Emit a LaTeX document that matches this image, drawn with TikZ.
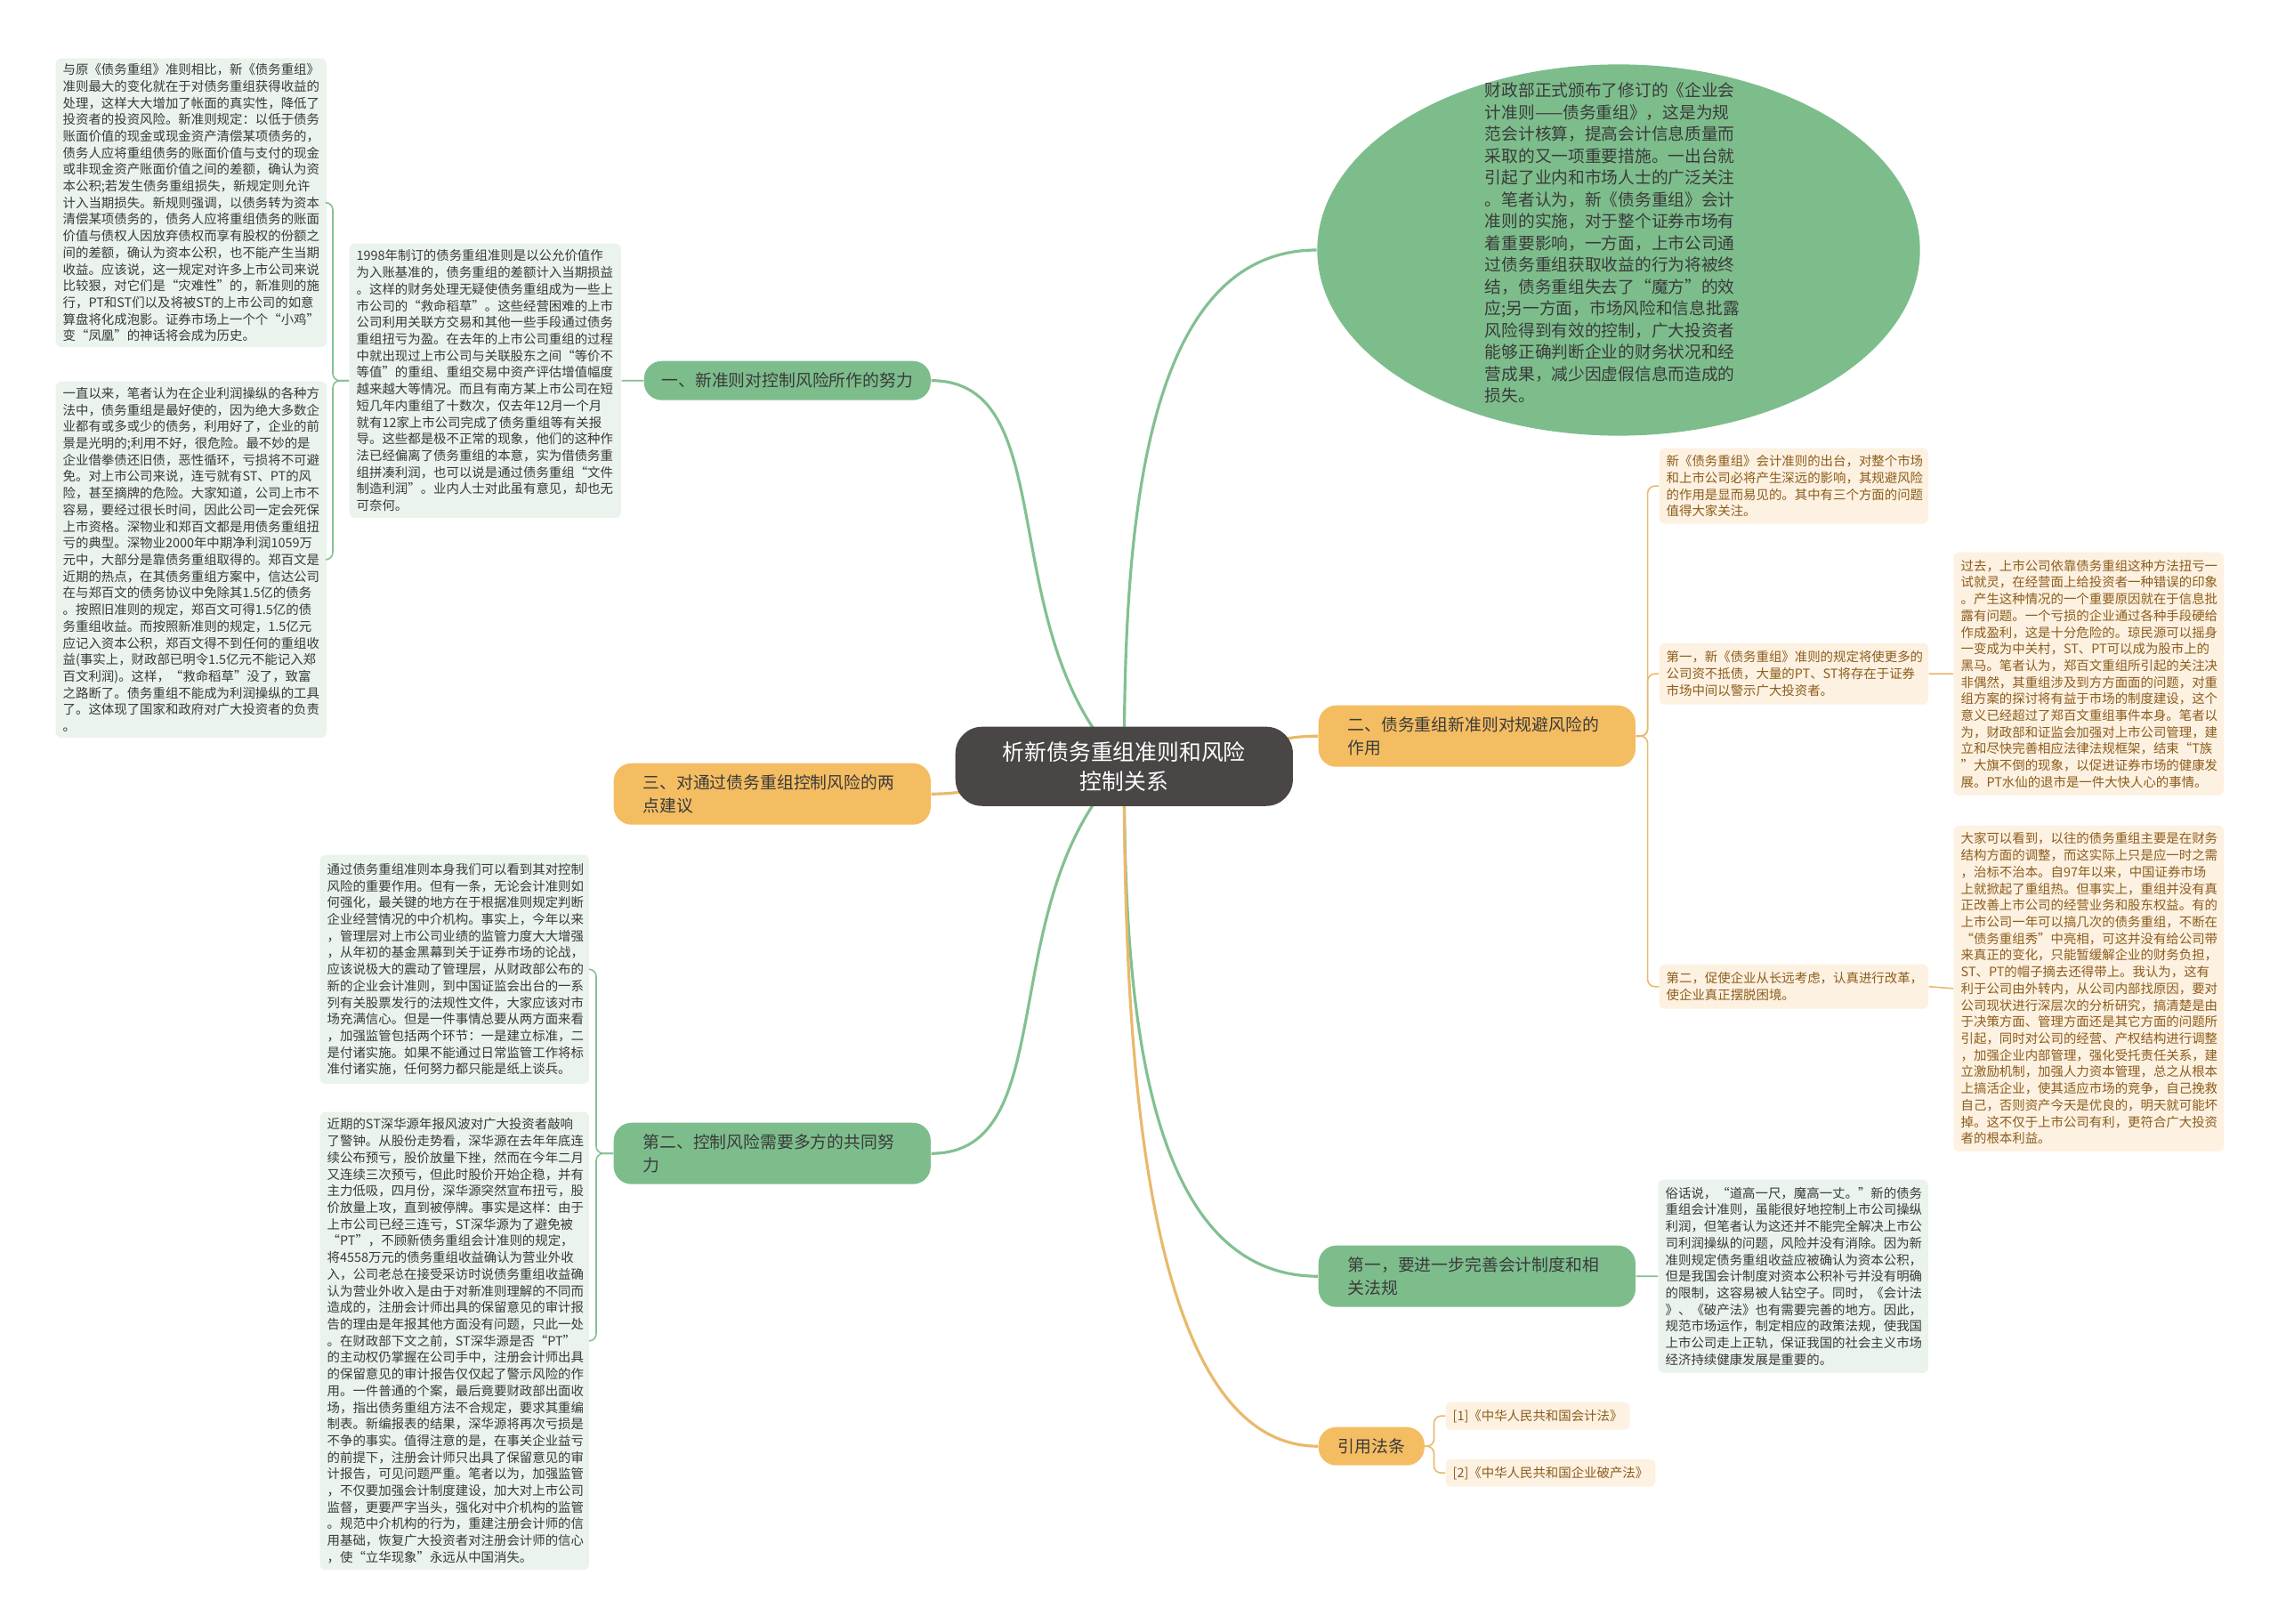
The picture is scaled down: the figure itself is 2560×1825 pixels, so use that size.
\documentclass[tikz,border=0pt]{standalone}
\usepackage{fontspec}
\setmainfont{Noto Sans CJK SC}
\usetikzlibrary{shapes.geometric,backgrounds}

\definecolor{rootfill}{HTML}{4A4646}
\definecolor{gpill}{HTML}{7DBD8C}
\definecolor{gleaf}{HTML}{EAF3EC}
\definecolor{gline}{HTML}{82C092}
\definecolor{opill}{HTML}{F4BD62}
\definecolor{oleaf}{HTML}{FDF1E1}
\definecolor{oline}{HTML}{E9B96B}
\definecolor{otext}{HTML}{8C5D1C}
\definecolor{dtext}{HTML}{3A3A3A}

\tikzset{
	leaf/.style={rectangle, rounded corners=0.6mm, inner xsep=0.08cm, inner ysep=0.04cm, align=left, anchor=north west, font=\fontsize{4.1}{5.32}\selectfont},
	gleafbox/.style={leaf, fill=gleaf, text=dtext},
	oleafbox/.style={leaf, fill=oleaf, text=otext},
	pill/.style={rectangle, rounded corners=0.2cm, anchor=north west, text=dtext, font=\fontsize{5.35}{7.4}\selectfont},
	widepill/.style={pill, inner xsep=0.33cm, text width=2.9cm, align=left, minimum height=0.69cm},
	gbranch/.style={fill=gpill},
	obranch/.style={fill=opill},
	gmain/.style={draw=gline, line width=0.9pt},
	omain/.style={draw=oline, line width=0.9pt},
	gsub/.style={draw=gline, line width=0.45pt, rounded corners=0.8mm},
	osub/.style={draw=oline, line width=0.45pt, rounded corners=0.8mm}
}

\begin{document}
\begin{tikzpicture}[x=0.01cm,y=-0.01cm]
	\useasboundingbox (0,0) rectangle (2560,1825);

	\node[rectangle, rounded corners=0.3cm, fill=rootfill, text=white, anchor=north west, minimum width=3.79cm, minimum height=0.89cm, align=center, font=\fontsize{7.05}{9.4}\selectfont] (root) at (1073,816) {析新债务重组准则和风险\\控制关系};

	\node[pill, gbranch, minimum width=3.22cm, minimum height=0.44cm] (nEffort) at (723,405) {一、新准则对控制风险所作的努力};
	\node[widepill, obranch] (nAdvice) at (689,857) {三、对通过债务重组控制风险的两\\点建议};
	\node[widepill, gbranch] (nJoint) at (689,1261) {第二、控制风险需要多方的共同努\\力};
	\node[widepill, obranch] (nAvoid) at (1481,792) {二、债务重组新准则对规避风险的\\作用};
	\node[widepill, gbranch] (nPerfect) at (1481,1399) {第一，要进一步完善会计制度和相\\关法规};
	\node[pill, obranch, minimum width=1.19cm, minimum height=0.43cm] (nLaw) at (1481,1603) {引用法条};

	\node[ellipse, fill=gpill, minimum width=6.77cm, minimum height=4.17cm, inner sep=0pt] (intro) at (1819,281) {};
	\node[text=dtext, align=left, text width=2.86cm, font=\fontsize{5.32}{6.97}\selectfont] (introText) at (1812,273) {财政部正式颁布了修订的《企业会\\
计准则——债务重组》，这是为规\\
范会计核算，提高会计信息质量而\\
采取的又一项重要措施。一出台就\\
引起了业内和市场人士的广泛关注\\
。笔者认为，新《债务重组》会计\\
准则的实施，对于整个证券市场有\\
着重要影响，一方面，上市公司通\\
过债务重组获取收益的行为将被终\\
结，债务重组失去了“魔方”的效\\
应;另一方面，市场风险和信息批露\\
风险得到有效的控制，广大投资者\\
能够正确判断企业的财务状况和经\\
营成果，减少因虚假信息而造成的\\
损失。};

	\node[gleafbox, text width=2.89cm, minimum height=3.08cm] (t1998) at (392,273) {1998年制订的债务重组准则是以公允价值作\\
为入账基准的，债务重组的差额计入当期损益\\
。这样的财务处理无疑使债务重组成为一些上\\
市公司的“救命稻草”。这些经营困难的上市\\
公司利用关联方交易和其他一些手段通过债务\\
重组扭亏为盈。在去年的上市公司重组的过程\\
中就出现过上市公司与关联股东之间“等价不\\
等值”的重组、重组交易中资产评估增值幅度\\
越来越大等情况。而且有南方某上市公司在短\\
短几年内重组了十数次，仅去年12月一个月\\
就有12家上市公司完成了债务重组等有关报\\
导。这些都是极不正常的现象，他们的这种作\\
法已经偏离了债务重组的本意，实为借债务重\\
组拼凑利润，也可以说是通过债务重组“文件\\
制造利润”。业内人士对此虽有意见，却也无\\
可奈何。};

	\node[gleafbox, text width=2.88cm, minimum height=3.24cm] (tCompare) at (62,65) {与原《债务重组》准则相比，新《债务重组》\\
准则最大的变化就在于对债务重组获得收益的\\
处理，这样大大增加了帐面的真实性，降低了\\
投资者的投资风险。新准则规定：以低于债务\\
账面价值的现金或现金资产清偿某项债务的，\\
债务人应将重组债务的账面价值与支付的现金\\
或非现金资产账面价值之间的差额，确认为资\\
本公积;若发生债务重组损失，新规定则允许\\
计入当期损失。新规则强调，以债务转为资本\\
清偿某项债务的，债务人应将重组债务的账面\\
价值与债权人因放弃债权而享有股权的份额之\\
间的差额，确认为资本公积，也不能产生当期\\
收益。应该说，这一规定对许多上市公司来说\\
比较狠，对它们是“灾难性”的，新准则的施\\
行，PT和ST们以及将被ST的上市公司的如意\\
算盘将化成泡影。证券市场上一个个“小鸡”\\
变“凤凰”的神话将会成为历史。};

	\node[gleafbox, text width=2.88cm, minimum height=4.0cm] (tProfit) at (62,428) {一直以来，笔者认为在企业利润操纵的各种方\\
法中，债务重组是最好使的，因为绝大多数企\\
业都有或多或少的债务，利用好了，企业的前\\
景是光明的;利用不好，很危险。最不妙的是\\
企业借拳债还旧债，恶性循环，亏损将不可避\\
免。对上市公司来说，连亏就有ST、PT的风\\
险，甚至摘牌的危险。大家知道，公司上市不\\
容易，要经过很长时间，因此公司一定会死保\\
上市资格。深物业和郑百文都是用债务重组扭\\
亏的典型。深物业2000年中期净利润1059万\\
元中，大部分是靠债务重组取得的。郑百文是\\
近期的热点，在其债务重组方案中，信达公司\\
在与郑百文的债务协议中免除其1.5亿的债务\\
。按照旧准则的规定，郑百文可得1.5亿的债\\
务重组收益。而按照新准则的规定，1.5亿元\\
应记入资本公积，郑百文得不到任何的重组收\\
益(事实上，财政部已明令1.5亿元不能记入郑\\
百文利润)。这样，“救命稻草”没了，致富\\
之路断了。债务重组不能成为利润操纵的工具\\
了。这体现了国家和政府对广大投资者的负责\\
。};

	\node[gleafbox, text width=2.86cm, minimum height=2.57cm] (tRegulate) at (359,960) {通过债务重组准则本身我们可以看到其对控制\\
风险的重要作用。但有一条，无论会计准则如\\
何强化，最关键的地方在于根据准则规定判断\\
企业经营情况的中介机构。事实上，今年以来\\
，管理层对上市公司业绩的监管力度大大增强\\
，从年初的基金黑幕到关于证券市场的论战，\\
应该说极大的震动了管理层，从财政部公布的\\
新的企业会计准则，到中国证监会出台的一系\\
列有关股票发行的法规性文件，大家应该对市\\
场充满信心。但是一件事情总要从两方面来看\\
，加强监管包括两个环节：一是建立标准，二\\
是付诸实施。如果不能通过日常监管工作将标\\
准付诸实施，任何努力都只能是纸上谈兵。};

	\node[gleafbox, text width=2.86cm, minimum height=5.14cm] (tHuayuan) at (359,1249) {近期的ST深华源年报风波对广大投资者敲响\\
了警钟。从股份走势看，深华源在去年年底连\\
续公布预亏，股价放量下挫，然而在今年二月\\
又连续三次预亏，但此时股价开始企稳，并有\\
主力低吸，四月份，深华源突然宣布扭亏，股\\
价放量上攻，直到被停牌。事实是这样：由于\\
上市公司已经三连亏，ST深华源为了避免被\\
“PT”，不顾新债务重组会计准则的规定，\\
将4558万元的债务重组收益确认为营业外收\\
入，公司老总在接受采访时说债务重组收益确\\
认为营业外收入是由于对新准则理解的不同而\\
造成的，注册会计师出具的保留意见的审计报\\
告的理由是年报其他方面没有问题，只此一处\\
。在财政部下文之前，ST深华源是否“PT”\\
的主动权仍掌握在公司手中，注册会计师出具\\
的保留意见的审计报告仅仅起了警示风险的作\\
用。一件普通的个案，最后竟要财政部出面收\\
场，指出债务重组方法不合规定，要求其重编\\
制表。新编报表的结果，深华源将再次亏损是\\
不争的事实。值得注意的是，在事关企业益亏\\
的前提下，注册会计师只出具了保留意见的审\\
计报告，可见问题严重。笔者以为，加强监管\\
，不仅要加强会计制度建设，加大对上市公司\\
监督，更要严字当头，强化对中介机构的监管\\
。规范中介机构的行为，重建注册会计师的信\\
用基础，恢复广大投资者对注册会计师的信心\\
，使“立华现象”永远从中国消失。};

	\node[oleafbox, text width=2.86cm, minimum height=0.85cm] (tIntroR) at (1864,503) {新《债务重组》会计准则的出台，对整个市场\\
和上市公司必将产生深远的影响，其规避风险\\
的作用是显而易见的。其中有三个方面的问题\\
值得大家关注。};

	\node[oleafbox, text width=2.86cm, minimum height=0.69cm] (tFirst) at (1864,722) {第一，新《债务重组》准则的规定将使更多的\\
公司资不抵债，大量的PT、ST将存在于证券\\
市场中间以警示广大投资者。};

	\node[oleafbox, text width=2.87cm, minimum height=2.73cm] (tPast) at (2195,620) {过去，上市公司依靠债务重组这种方法扭亏一\\
试就灵，在经营面上给投资者一种错误的印象\\
。产生这种情况的一个重要原因就在于信息批\\
露有问题。一个亏损的企业通过各种手段硬给\\
作成盈利，这是十分危险的。琼民源可以摇身\\
一变成为中关村，ST、PT可以成为股市上的\\
黑马。笔者认为，郑百文重组所引起的关注决\\
非偶然，其重组涉及到方方面面的问题，对重\\
组方案的探讨将有益于市场的制度建设，这个\\
意义已经超过了郑百文重组事件本身。笔者以\\
为，财政部和证监会加强对上市公司管理，建\\
立和尽快完善相应法律法规框架，结束“T族\\
”大旗不倒的现象，以促进证券市场的健康发\\
展。PT水仙的退市是一件大快人心的事情。};

	\node[oleafbox, text width=2.86cm, minimum height=0.50cm] (tSecond) at (1864,1083) {第二，促使企业从长远考虑，认真进行改革，\\
使企业真正摆脱困境。};

	\node[oleafbox, text width=2.87cm, minimum height=3.66cm] (tAll) at (2195,927) {大家可以看到，以往的债务重组主要是在财务\\
结构方面的调整，而这实际上只是应一时之需\\
，治标不治本。自97年以来，中国证券市场\\
上就掀起了重组热。但事实上，重组并没有真\\
正改善上市公司的经营业务和股东权益。有的\\
上市公司一年可以搞几次的债务重组，不断在\\
“债务重组秀”中亮相，可这并没有给公司带\\
来真正的变化，只能暂缓解企业的财务负担，\\
ST、PT的帽子摘去还得带上。我认为，这有\\
利于公司由外转内，从公司内部找原因，要对\\
公司现状进行深层次的分析研究，搞清楚是由\\
于决策方面、管理方面还是其它方面的问题所\\
引起，同时对公司的经营、产权结构进行调整\\
，加强企业内部管理，强化受托责任关系，建\\
立激励机制，加强人力资本管理，总之从根本\\
上搞活企业，使其适应市场的竞争，自己挽救\\
自己，否则资产今天是优良的，明天就可能坏\\
掉。这不仅于上市公司有利，更符合广大投资\\
者的根本利益。};

	\node[gleafbox, text width=2.87cm, minimum height=2.17cm] (tProverb) at (1863,1325) {俗话说，“道高一尺，魔高一丈。”新的债务\\
重组会计准则，虽能很好地控制上市公司操纵\\
利润，但笔者认为这还并不能完全解决上市公\\
司利润操纵的问题，风险并没有消除。因为新\\
准则规定债务重组收益应被确认为资本公积，\\
但是我国会计制度对资本公积补亏并没有明确\\
的限制，这容易被人钻空子。同时，《会计法\\
》、《破产法》也有需要完善的地方。因此，\\
规范市场运作，制定相应的政策法规，使我国\\
上市公司走上正轨，保证我国的社会主义市场\\
经济持续健康发展是重要的。};

	\node[oleafbox, minimum width=2.06cm, minimum height=0.31cm, anchor=north west] (tCiteA) at (1624,1575) {[1]《中华人民共和国会计法》};
	\node[oleafbox, minimum width=2.34cm, minimum height=0.31cm, anchor=north west] (tCiteB) at (1624,1639) {[2]《中华人民共和国企业破产法》};

	\draw[gsub] (nEffort.west) -- (t1998.east);
	\foreach \n in {tCompare,tProfit}
		\draw[gsub] (t1998.west) -- ++(-18,0) |- (\n.east);
	\foreach \n in {tRegulate,tHuayuan}
		\draw[gsub] (nJoint.west) -- ++(-19,0) |- (\n.east);
	\foreach \n in {tIntroR,tFirst,tSecond}
		\draw[osub] (nAvoid.east) -- ++(13,0) |- (\n.west);
	\draw[osub] (tFirst.east) -- (tPast.west);
	\draw[osub] (tSecond.east) -- (tAll.west);
	\draw[gsub] (nPerfect.east) -- (tProverb.west);
	\foreach \n in {tCiteA,tCiteB}
		\draw[osub] (nLaw.east) -- ++(10,0) |- (\n.west);

	\begin{scope}[on background layer]
		\fill[white] (0,0) rectangle (2560,1825);
		\draw[gmain] (root.center) .. controls +(-150,-150) and +(150,0) .. (nEffort.east);
		\draw[omain] (root.center) .. controls +(-150,0) and +(80,0) .. (nAdvice.east);
		\draw[gmain] (root.center) .. controls +(-150,150) and +(150,0) .. (nJoint.east);
		\draw[gmain] (root.center) .. controls +(0,-250) and +(-200,0) .. (intro.west);
		\draw[omain] (root.center) .. controls +(150,0) and +(-80,0) .. (nAvoid.west);
		\draw[gmain] (root.center) .. controls +(0,250) and +(-200,0) .. (nPerfect.west);
		\draw[omain] (root.center) .. controls +(0,300) and +(-200,0) .. (nLaw.west);
	\end{scope}
\end{tikzpicture}
\end{document}
